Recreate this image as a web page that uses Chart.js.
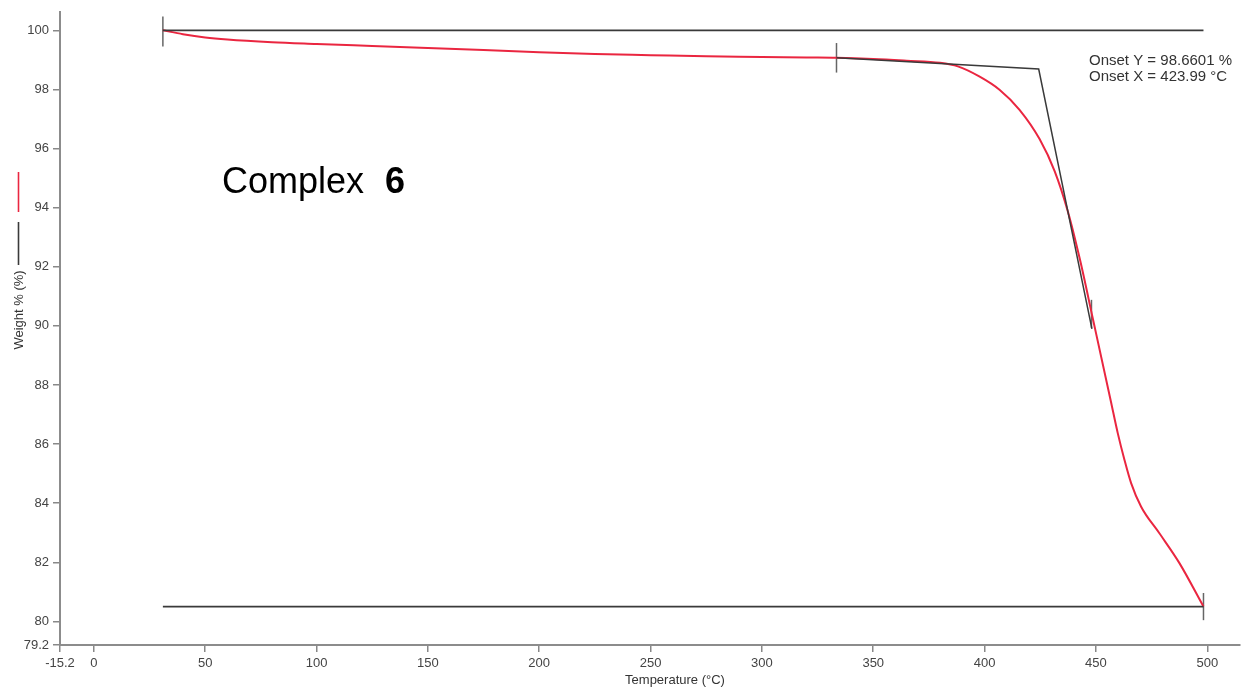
<!DOCTYPE html>
<html>
<head>
<meta charset="utf-8">
<title>Complex 6 TGA</title>
<script src="https://cdn.jsdelivr.net/npm/chart.js@4.4.1/dist/chart.umd.min.js"></script>
<style>
  html, body { margin: 0; padding: 0; background: #ffffff; }
  #wrap { width: 1242px; height: 689px; }
</style>
</head>
<body>
<div id="wrap"><canvas id="tga" width="1242" height="689"></canvas></div>
<script>
// Thermogravimetric curve (temperature in °C, weight in %)
const tempC = [31, 40, 50, 60, 80, 100, 125, 150, 175, 200, 225, 250, 275, 300, 320, 333.5,
  350, 365, 380, 388, 397.6, 406.7, 415.7, 424.7, 431.5, 437.4, 442.8, 448.6, 456.7,
  459.8, 462.8, 465.8, 470.3, 478.5, 487.5, 498.3];
const weightPct = [100.0, 99.87, 99.76, 99.69, 99.60, 99.54, 99.47, 99.40, 99.33, 99.26, 99.20, 99.16, 99.12, 99.10, 99.08, 99.07,
  99.03, 98.97, 98.90, 98.78, 98.44, 97.99, 97.31, 96.32, 95.23, 93.87, 92.25, 90.25, 87.45,
  86.37, 85.47, 84.68, 83.88, 82.98, 81.97, 80.50];

// Onset construction: baselines, tangents and range markers
const startX = [31, 498.3];
const upperLevel = [100.0, 100.0];
const lowerLevel = [80.5, 80.5];
const tangentX = [333.5, 424.3, 448.2];
const tangentY = [99.07, 98.69, 89.9];
const markerX = [31, 333.5, 448.0, 498.3];
const markerLow = [99.45, 98.57, 89.93, 80.04];
const markerHigh = [100.47, 99.57, 90.88, 80.96];

// Axis ticks
const xTicks = [-15.2, 0, 50, 100, 150, 200, 250, 300, 350, 400, 450, 500];
const yTicks = [79.2, 80, 82, 84, 86, 88, 90, 92, 94, 96, 98, 100];

const onsetLines = ['Onset Y = 98.6601 %', 'Onset X = 423.99 °C'];
const sampleName = 'Complex';
const sampleNo = '6';
const xTitle = 'Temperature (°C)';
const yTitle = 'Weight % (%)';

const FONT = "'Liberation Sans', Arial, sans-serif";
const RED = '#ea2640';
const DARK = '#3a3a3a';

const pairs = (xs, ys) => xs.map((x, i) => ({ x: x, y: ys[i] }));

const datasets = [
  { data: pairs(startX, upperLevel), borderColor: DARK, borderWidth: 1.7 },
  { data: pairs(startX, lowerLevel), borderColor: DARK, borderWidth: 1.7 },
  { data: pairs(tangentX, tangentY), borderColor: DARK, borderWidth: 1.5 },
  { data: pairs(tempC, weightPct), borderColor: RED, borderWidth: 2, cubicInterpolationMode: 'monotone' }
];
markerX.forEach((x, i) => {
  datasets.push({ data: [{ x: x, y: markerLow[i] }, { x: x, y: markerHigh[i] }], borderColor: '#666', borderWidth: 1.5 });
});

const decorations = {
  id: 'decorations',
  afterDraw(chart) {
    const ctx = chart.ctx;
    ctx.save();
    // sample label
    ctx.fillStyle = '#000';
    ctx.textBaseline = 'alphabetic';
    ctx.textAlign = 'left';
    ctx.font = '36px ' + FONT;
    ctx.fillText(sampleName, 222, 193);
    const w = ctx.measureText(sampleName).width;
    ctx.font = 'bold 36px ' + FONT;
    ctx.fillText(sampleNo, 222 + w + 21, 193);

    // onset readout
    ctx.fillStyle = '#333';
    ctx.font = '15px ' + FONT;
    ctx.textBaseline = 'middle';
    ctx.fillText(onsetLines[0], 1089, 61);
    ctx.fillText(onsetLines[1], 1089, 77);

    // x axis title
    ctx.font = '13px ' + FONT;
    ctx.textAlign = 'center';
    ctx.fillText(xTitle, 675, 680);

    // y axis title with series swatches
    ctx.save();
    ctx.translate(19, 310);
    ctx.rotate(-Math.PI / 2);
    ctx.fillText(yTitle, 0, 0);
    ctx.restore();
    ctx.lineWidth = 1.6;
    ctx.strokeStyle = DARK;
    ctx.beginPath(); ctx.moveTo(18.5, 222); ctx.lineTo(18.5, 265); ctx.stroke();
    ctx.strokeStyle = RED;
    ctx.beginPath(); ctx.moveTo(18.5, 172); ctx.lineTo(18.5, 212); ctx.stroke();
    ctx.restore();
  }
};

new Chart(document.getElementById('tga'), {
  type: 'line',
  data: { datasets: datasets },
  options: {
    responsive: false,
    animation: false,
    devicePixelRatio: 1,
    elements: { point: { radius: 0, hoverRadius: 0 }, line: { tension: 0, fill: false } },
    layout: { padding: { top: 12, right: 2, left: 0, bottom: 0 } },
    plugins: { legend: { display: false }, tooltip: { enabled: false } },
    scales: {
      x: {
        type: 'linear',
        min: -15.2,
        max: 514.7,
        afterBuildTicks(scale) { scale.ticks = xTicks.map(v => ({ value: v })); },
        afterFit(scale) { scale.height = 44; },
        ticks: {
          autoSkip: false,
          maxRotation: 0,
          padding: 4,
          color: '#444',
          font: { family: FONT, size: 13 },
          callback: v => String(v)
        },
        grid: { drawOnChartArea: false, drawTicks: true, tickLength: 7, color: '#888', lineWidth: 1.5 },
        border: { display: true, color: '#8c8c8c', width: 2 }
      },
      y: {
        type: 'linear',
        min: 79.2,
        max: 100.62,
        afterBuildTicks(scale) { scale.ticks = yTicks.map(v => ({ value: v })); },
        afterFit(scale) { scale.width = 60; },
        ticks: {
          autoSkip: false,
          padding: 4,
          color: '#444',
          font: { family: FONT, size: 13 },
          callback: v => String(v)
        },
        grid: { drawOnChartArea: false, drawTicks: true, tickLength: 7, color: '#888', lineWidth: 1.5 },
        border: { display: true, color: '#8c8c8c', width: 2 }
      }
    }
  },
  plugins: [decorations]
});
</script>
</body>
</html>
